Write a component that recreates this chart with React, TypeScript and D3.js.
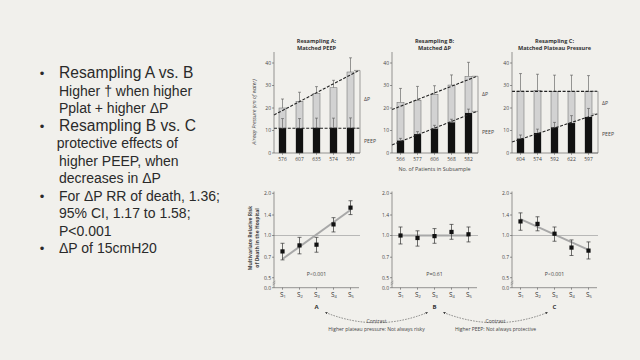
import React from 'react';
import * as d3 from 'd3';

// ---------- Left slide text ----------
const slideLines = [
  { text: 'Resampling A vs. B', kind: 'head' },
  { text: 'Higher † when higher', kind: 'sub' },
  { text: 'Pplat + higher ΔP', kind: 'sub' },
  { text: 'Resampling B vs. C', kind: 'head' },
  { text: 'protective effects of', kind: 'sub2' },
  { text: 'higher PEEP, when', kind: 'sub' },
  { text: 'decreases in ΔP', kind: 'sub' },
  { text: 'For ΔP RR of death, 1.36;', kind: 'item' },
  { text: '95% CI, 1.17 to 1.58;', kind: 'sub' },
  { text: 'P<0.001', kind: 'sub' },
  { text: 'ΔP of 15cmH20', kind: 'item' },
];

// ---------- Top panels (airway pressure) ----------
const topTitleLine1 = ['Resampling A:', 'Resampling B:', 'Resampling C:'];
const topTitleLine2 = ['Matched PEEP', 'Matched ΔP', 'Matched Plateau Pressure'];
const topTicks = [0, 10, 20, 30, 40];

const patientsA = ['576', '607', '635', '574', '597'];
const patientsB = ['566', '577', '606', '568', '582'];
const patientsC = ['604', '574', '592', '622', '597'];

const plateauA = [20, 23, 26.5, 29, 36];
const plateauHiA = [24, 27, 29.5, 32.3, 42.3];
const peepA = [11, 11, 11.2, 11.2, 11.2];
const peepHiA = [15.3, 15.3, 15.5, 15.5, 15.6];
const trendPlatA = [16.9, 36.7];
const trendPeepA = [11, 11];

const plateauB = [22.5, 23.4, 26, 30.2, 34];
const plateauHiB = [28.7, 29.6, 29.9, 34.7, 40.3];
const peepB = [5.5, 8.4, 10.8, 13.6, 17.8];
const peepHiB = [6.5, 9.5, 12.3, 15, 19.5];
const trendPlatB = [19.3, 34.1];
const trendPeepB = [3.6, 18.5];

const plateauC = [27.5, 27.8, 27.4, 27.4, 27.4];
const plateauHiC = [35.3, 35, 34.6, 34.6, 34.4];
const peepC = [6.4, 8.9, 11.4, 13.3, 16];
const peepHiC = [8, 10.6, 13.6, 16.6, 19.8];
const trendPlatC = [27.4, 27.4];
const trendPeepC = [4.9, 17.3];

// ---------- Bottom panels (relative risk) ----------
const subsamples = ['1', '2', '3', '4', '5'];
const rrTicks = [2.0, 1.4, 1.0, 0.7, 0.5];

const rrA = [0.77, 0.85, 0.86, 1.2, 1.58];
const rrLoA = [0.67, 0.74, 0.76, 1.06, 1.41];
const rrHiA = [0.88, 0.97, 0.97, 1.34, 1.77];
const fitA = [0.68, 1.52];

const rrB = [1.0, 0.96, 0.99, 1.06, 1.02];
const rrLoB = [0.87, 0.84, 0.88, 0.94, 0.9];
const rrHiB = [1.15, 1.08, 1.12, 1.2, 1.15];
const fitB = [1.0, 1.0];

const rrC = [1.26, 1.21, 1.03, 0.82, 0.78];
const rrLoC = [1.09, 1.08, 0.91, 0.72, 0.68];
const rrHiC = [1.45, 1.36, 1.15, 0.93, 0.9];
const fitC = [1.31, 0.79];

const pValues = ['P<0.001', 'P=0.61', 'P<0.001'];
const panelLetters = ['A', 'B', 'C'];
const contrastNotes = ['Higher plateau pressure: Not always risky', 'Higher PEEP: Not always protective'];

const FONT = '"Liberation Sans", Arial, sans-serif';
const CFONT = '"Open Sans", "Liberation Sans", sans-serif';
const BG = '#f1f0ec';

const panelX = [274, 392, 512];
const PW = 85;

function TopPanel(props: any) {
  const { x0, labels, plat, platHi, peep, peepHi, tPlat, tPeep, t1, t2, showYTitle, showXTitle } = props;
  const y = d3.scaleLinear().domain([0, 45]).range([153, 51.75]);
  const x = d3.scalePoint<number>().domain(labels.map((_: any, i: number) => i)).range([x0, x0 + PW]).padding(0.5);
  const xr = d3.scaleLinear().domain([0, 1]).range([x0, x0 + PW]);
  const bw = 7;
  const bx = x0 + PW + 1;
  const trend = d3.line<number>().x((_, i) => xr(i)).y((d) => y(d));
  return (
    <g>
      <text x={x0 + PW / 2} y={43} textAnchor="middle" fontSize={5.6} fontWeight="bold" fill="#333" fontFamily={CFONT}>{t1}</text>
      <text x={x0 + PW / 2} y={50} textAnchor="middle" fontSize={5.6} fontWeight="bold" fill="#333" fontFamily={CFONT}>{t2}</text>
      {plat.map((v: number, i: number) => (
        <g key={i}>
          <line x1={x(i)} x2={x(i)} y1={y(v)} y2={y(platHi[i])} stroke="#555" strokeWidth={0.6} />
          <line x1={x(i)! - 1.5} x2={x(i)! + 1.5} y1={y(platHi[i])} y2={y(platHi[i])} stroke="#555" strokeWidth={0.6} />
          <rect x={x(i)! - bw / 2} y={y(v)} width={bw} height={y(0) - y(v)} fill="#d2d2d2" stroke="#666" strokeWidth={0.5} />
          <rect x={x(i)! - bw / 2} y={y(peep[i])} width={bw} height={y(0) - y(peep[i])} fill="#111" />
          <line x1={x(i)} x2={x(i)} y1={y(peep[i])} y2={y(peepHi[i])} stroke="#555" strokeWidth={0.6} />
          <line x1={x(i)! - 1.5} x2={x(i)! + 1.5} y1={y(peepHi[i])} y2={y(peepHi[i])} stroke="#555" strokeWidth={0.6} />
        </g>
      ))}
      <path d={trend(tPlat)!} fill="none" stroke="#222" strokeWidth={1.1} strokeDasharray="3,1.6" />
      <path d={trend(tPeep)!} fill="none" stroke="#222" strokeWidth={1.1} strokeDasharray="3,1.6" />
      {/* axes */}
      <line x1={x0} x2={x0} y1={y(0)} y2={52} stroke="#555" strokeWidth={0.6} />
      <line x1={x0} x2={x0 + PW + 1} y1={y(0)} y2={y(0)} stroke="#555" strokeWidth={0.6} />
      {topTicks.map((t) => (
        <g key={t}>
          <line x1={x0 - 2} x2={x0} y1={y(t)} y2={y(t)} stroke="#555" strokeWidth={0.6} />
          <text x={x0 - 3} y={y(t) + 1.8} textAnchor="end" fontSize={5} fill="#444" fontFamily={CFONT}>{t}</text>
        </g>
      ))}
      {labels.map((l: string, i: number) => (
        <g key={l + i}>
          <line x1={x(i)} x2={x(i)} y1={y(0)} y2={y(0) + 1.8} stroke="#555" strokeWidth={0.6} />
          <text x={x(i)} y={161} textAnchor="middle" fontSize={5} fill="#444" fontFamily={CFONT}>{l}</text>
        </g>
      ))}
      {/* brackets */}
      <path d={`M${bx - 6},${y(tPlat[1])}H${bx}V${y(tPeep[1])}H${bx - 6}M${bx},${y(tPeep[1])}V${y(0)}H${bx - 6}`} fill="none" stroke="#666" strokeWidth={0.6} />
      <text x={bx + 4} y={(y(tPlat[1]) + y(tPeep[1])) / 2 + 2} fontSize={5.2} fill="#444" fontFamily={CFONT}>ΔP</text>
      <text x={bx + 4} y={(y(tPeep[1]) + y(0)) / 2 + 2} fontSize={5.2} fill="#444" fontFamily={CFONT}>PEEP</text>
      {showYTitle && (
        <text transform={`translate(256,112) rotate(-90)`} textAnchor="middle" fontSize={5} fontStyle="italic" fill="#444" fontFamily={CFONT}>Airway Pressure (cm of water)</text>
      )}
      {showXTitle && (
        <text x={x0 + PW / 2} y={171} textAnchor="middle" fontSize={5.4} fill="#444" fontFamily={CFONT}>No. of Patients in Subsample</text>
      )}
    </g>
  );
}

function BottomPanel(props: any) {
  const { x0, rr, lo, hi, fit, p, showYTitle } = props;
  const y = d3.scaleLog().domain([0.5, 2]).range([277.7, 193.3]);
  const x = d3.scalePoint<string>().domain(subsamples).range([x0, x0 + PW]).padding(0.5);
  const y0 = 287.7;
  const fitLine = d3.line<number>().x((_, i) => x(subsamples[i * 4])!).y((d) => y(d));
  return (
    <g>
      <line x1={x0} x2={x0 + PW + 1} y1={y(1)} y2={y(1)} stroke="#aaa" strokeWidth={0.8} />
      <path d={fitLine(fit)!} fill="none" stroke="#a8a8a8" strokeWidth={2} />
      {rr.map((v: number, i: number) => {
        const xi = x(subsamples[i])!;
        return (
          <g key={i}>
            <line x1={xi} x2={xi} y1={y(lo[i])} y2={y(hi[i])} stroke="#333" strokeWidth={0.7} />
            <line x1={xi - 2} x2={xi + 2} y1={y(lo[i])} y2={y(lo[i])} stroke="#333" strokeWidth={0.7} />
            <line x1={xi - 2} x2={xi + 2} y1={y(hi[i])} y2={y(hi[i])} stroke="#333" strokeWidth={0.7} />
            <rect x={xi - 2.1} y={y(v) - 2.1} width={4.2} height={4.2} fill="#111" />
          </g>
        );
      })}
      <line x1={x0} x2={x0} y1={y0} y2={191.5} stroke="#555" strokeWidth={0.6} />
      <line x1={x0} x2={x0 + PW} y1={y0} y2={y0} stroke="#555" strokeWidth={0.6} />
      <path d={`M${x0 - 1.5},${283}l3,-2M${x0 - 1.5},${285}l3,-2`} stroke="#666" strokeWidth={0.4} />
      {rrTicks.map((t) => (
        <g key={t}>
          <line x1={x0 - 2} x2={x0} y1={y(t)} y2={y(t)} stroke="#555" strokeWidth={0.6} />
          <text x={x0 - 3} y={y(t) + 1.8} textAnchor="end" fontSize={5} fill="#444" fontFamily={CFONT}>{t.toFixed(1)}</text>
        </g>
      ))}
      <line x1={x0 - 2} x2={x0} y1={y0} y2={y0} stroke="#555" strokeWidth={0.6} />
      <text x={x0 - 3} y={y0 + 1.8} textAnchor="end" fontSize={5} fill="#444" fontFamily={CFONT}>0.0</text>
      {subsamples.map((s) => (
        <g key={s}>
          <line x1={x(s)} x2={x(s)} y1={y0} y2={y0 + 2} stroke="#555" strokeWidth={0.6} />
          <text x={x(s)! - 2.5} y={y0 + 9} fontSize={6.5} fill="#333" fontFamily={CFONT}>
            S<tspan fontSize={4} dy={1.5}>{s}</tspan>
          </text>
        </g>
      ))}
      <text x={x(subsamples[2])} y={276} textAnchor="middle" fontSize={5.2} fill="#444" fontFamily={CFONT}>{p}</text>
      {showYTitle && (
        <text transform={`translate(255,238) rotate(-90)`} textAnchor="middle" fontSize={5} fontWeight="bold" fill="#444" fontFamily={CFONT}>
          <tspan x={0} dy={-3}>Multivariate Relative Risk</tspan>
          <tspan x={0} dy={6.5}>of Death in the Hospital</tspan>
        </text>
      )}
    </g>
  );
}

export default function App() {
  const lineY = (i: number) => 78 + i * 17.5;
  const tops = [
    { labels: patientsA, plat: plateauA, platHi: plateauHiA, peep: peepA, peepHi: peepHiA, tPlat: trendPlatA, tPeep: trendPeepA },
    { labels: patientsB, plat: plateauB, platHi: plateauHiB, peep: peepB, peepHi: peepHiB, tPlat: trendPlatB, tPeep: trendPeepB },
    { labels: patientsC, plat: plateauC, platHi: plateauHiC, peep: peepC, peepHi: peepHiC, tPlat: trendPlatC, tPeep: trendPeepC },
  ];
  const bottoms = [
    { rr: rrA, lo: rrLoA, hi: rrHiA, fit: fitA },
    { rr: rrB, lo: rrLoB, hi: rrHiB, fit: fitB },
    { rr: rrC, lo: rrLoC, hi: rrHiC, fit: fitC },
  ];
  const letterX = panelX.map((x0) => x0 + PW / 2);
  return (
    <div style={{ position: 'fixed', left: 0, top: 0 }}>
      <svg width={640} height={360} viewBox="0 0 640 360" style={{ display: 'block' }}>
        <defs>
          <marker id="arr" viewBox="0 0 6 6" refX={5} refY={3} markerWidth={4} markerHeight={4} orient="auto-start-reverse">
            <path d="M0,0L6,3L0,6z" fill="#333" />
          </marker>
        </defs>
        <rect width={640} height={360} fill={BG} />
        {/* left text */}
        {slideLines.map((l, i) => {
          const size = l.kind === 'head' ? 15.6 : 14;
          const tx = l.kind === 'sub2' ? 56.7 : 59;
          return (
            <g key={i}>
              {(l.kind === 'head' || l.kind === 'item') && (
                <text x={42} y={lineY(i)} textAnchor="middle" fontSize={13} fill="#2a2a2a" fontFamily={FONT}>•</text>
              )}
              <text x={tx} y={lineY(i)} fontSize={size} fill="#2a2a2a" fontFamily={FONT}>{l.text}</text>
            </g>
          );
        })}
        {tops.map((t, i) => (
          <TopPanel key={i} x0={panelX[i]} {...t} t1={topTitleLine1[i]} t2={topTitleLine2[i]} showYTitle={i === 0} showXTitle={i === 1} />
        ))}
        {bottoms.map((b, i) => (
          <BottomPanel key={i} x0={panelX[i]} {...b} p={pValues[i]} showYTitle={i === 0} />
        ))}
        {/* contrast annotations */}
        {panelLetters.map((l, i) => (
          <text key={l} x={letterX[i]} y={309} textAnchor="middle" fontSize={6} fontWeight="bold" fill="#333" fontFamily={CFONT}>{l}</text>
        ))}
        {contrastNotes.map((n, i) => {
          const xa = letterX[i] + 9;
          const xb = letterX[i + 1] - 7;
          const xm = (xa + xb) / 2;
          return (
            <g key={i}>
              <path d={`M${xa},312.5Q${xm},333 ${xb},312.5`} fill="none" stroke="#444" strokeWidth={0.6} strokeDasharray="1.6,1.2" markerStart="url(#arr)" markerEnd="url(#arr)" />
              <text x={xm} y={322.5} textAnchor="middle" fontSize={5} fill="#444" fontFamily={CFONT}>Contrast</text>
              <text x={xm} y={330.5} textAnchor="middle" fontSize={5} fill="#444" fontFamily={CFONT}>{n}</text>
            </g>
          );
        })}
      </svg>
    </div>
  );
}
